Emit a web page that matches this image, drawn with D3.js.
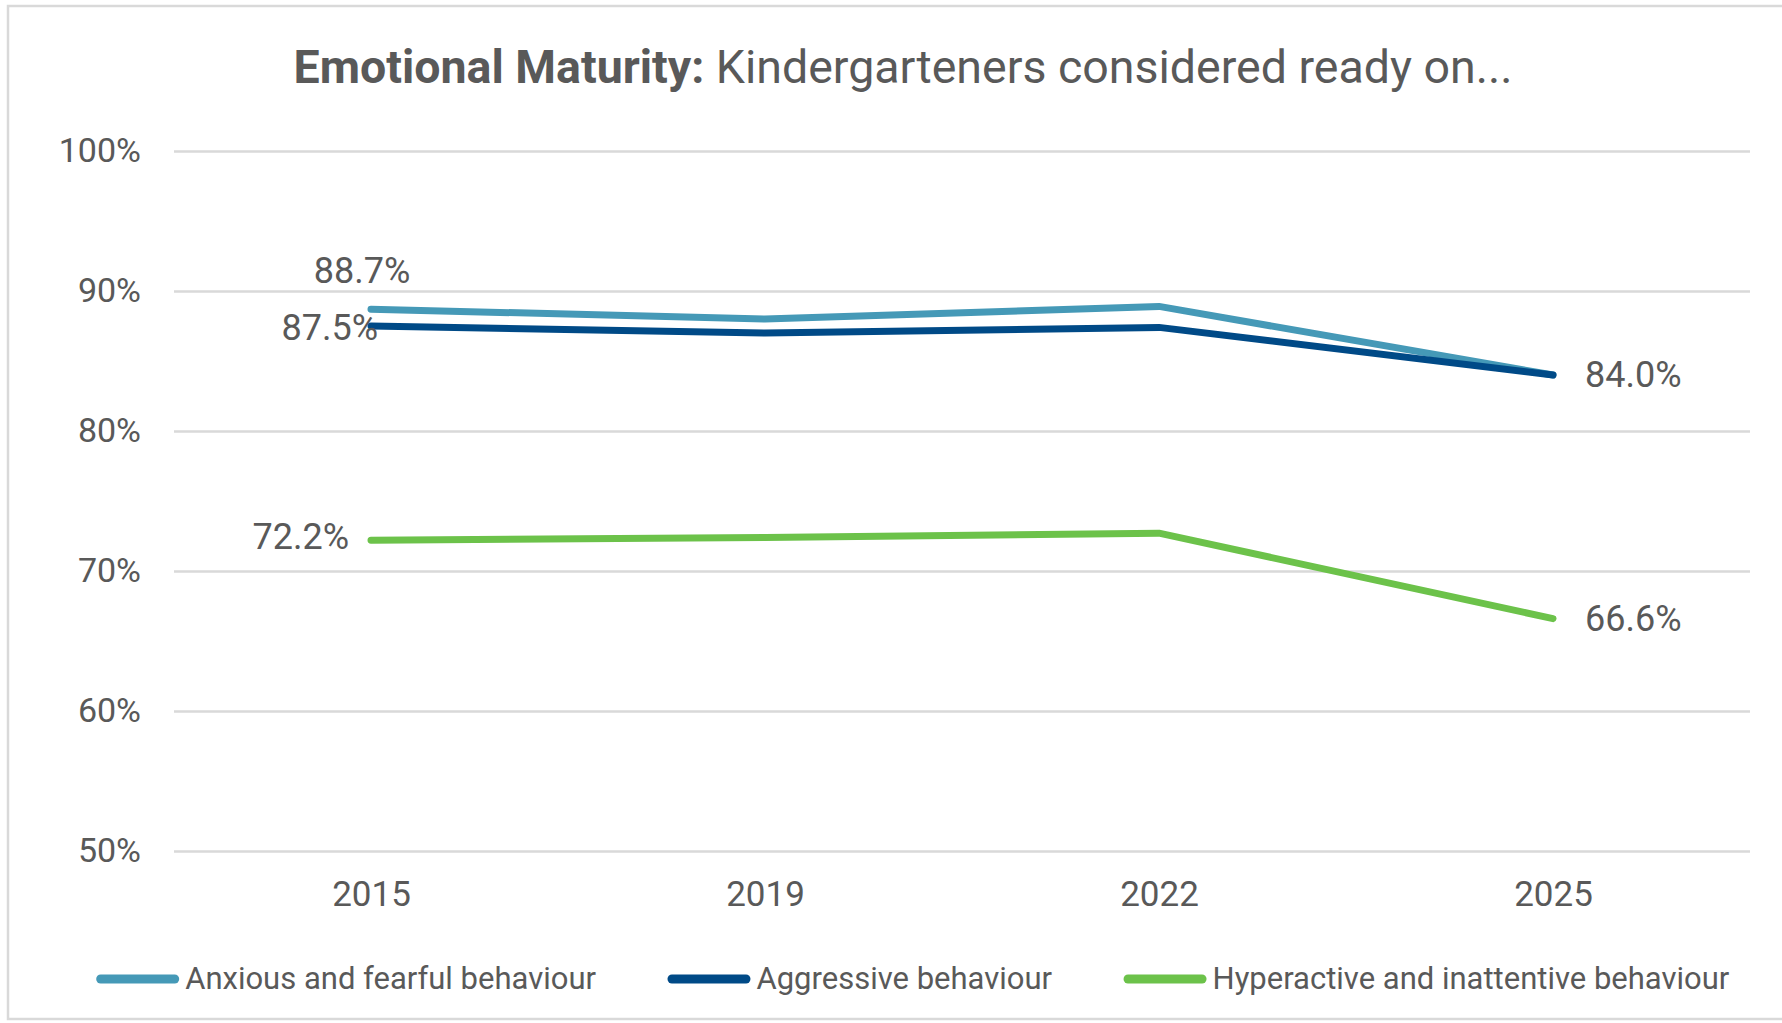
<!DOCTYPE html>
<html>
<head>
<meta charset="utf-8">
<script src="https://cdn.jsdelivr.net/npm/d3@7"></script>
<style>
  body { margin: 0; background: #fff; }
  svg { display: block; font-family: Roboto, "Noto Sans", sans-serif; }
</style>
</head>
<body>
<svg width="1782" height="1023"></svg>
<script>
  const years = ['2015', '2019', '2022', '2025'];
  const seriesNames = [
    'Anxious and fearful behaviour',
    'Aggressive behaviour',
    'Hyperactive and inattentive behaviour'
  ];
  const anxious = [88.7, 88.0, 88.9, 84.0];
  const aggressive = [87.5, 87.0, 87.4, 84.0];
  const hyperactive = [72.2, 72.4, 72.7, 66.6];
  const yTicks = [50, 60, 70, 80, 90, 100];
  const colors = ['#4599b7', '#004a87', '#6cc24a'];

  const svg = d3.select('svg');
  const textColor = '#595959';
  const fontFamily = 'Roboto, "Noto Sans", sans-serif';

  const margin = { top: 151, left: 174, right: 32, bottom: 172 };
  const width = +svg.attr('width');
  const height = +svg.attr('height');
  const innerWidth = width - margin.left - margin.right;
  const innerHeight = height - margin.top - margin.bottom;

  // outer frame: top, left and bottom edges (right side is cropped off)
  svg.append('path')
      .attr('d', `M${width},6 H8 V1019 H${width}`)
      .attr('fill', 'none')
      .attr('stroke', '#d9d9d9')
      .attr('stroke-width', 2.5);

  const xScale = d3.scalePoint()
    .domain(years)
    .range([0, innerWidth])
    .padding(0.5);

  const yScale = d3.scaleLinear()
    .domain([50, 100])
    .range([innerHeight, 0]);

  const g = svg.append('g')
      .attr('transform', `translate(${margin.left},${margin.top})`);

  const yAxis = d3.axisLeft(yScale)
    .tickValues(yTicks)
    .tickFormat(d => d + '%')
    .tickSize(-innerWidth)
    .tickPadding(33);

  const yAxisG = g.append('g').call(yAxis)
      .attr('font-family', fontFamily)
      .attr('font-size', 34);
  yAxisG.select('.domain').remove();
  yAxisG.selectAll('.tick line')
      .attr('stroke', '#d9d9d9')
      .attr('stroke-width', 2.5);
  yAxisG.selectAll('.tick text')
      .attr('fill', textColor);

  const xAxis = d3.axisBottom(xScale)
    .tickSize(0)
    .tickPadding(30);

  const xAxisG = g.append('g').call(xAxis)
      .attr('font-family', fontFamily)
      .attr('font-size', 35)
      .attr('transform', `translate(0,${innerHeight})`);
  xAxisG.select('.domain').remove();
  xAxisG.selectAll('.tick text')
      .attr('fill', textColor);

  const series = [anxious, aggressive, hyperactive].map((values, i) => ({
    name: seriesNames[i],
    color: colors[i],
    values: values.map((v, j) => ({ year: years[j], value: v }))
  }));

  const line = d3.line()
    .x(d => xScale(d.year))
    .y(d => yScale(d.value));

  g.selectAll('.series').data(series)
    .enter().append('path')
      .attr('class', 'series')
      .attr('d', d => line(d.values))
      .attr('fill', 'none')
      .attr('stroke', d => d.color)
      .attr('stroke-width', 7)
      .attr('stroke-linecap', 'round')
      .attr('stroke-linejoin', 'round');

  // data labels: first and last point, placed like the original
  const labels = [
    { s: 0, i: 0, dx: -9, dy: -26, anchor: 'middle' },
    { s: 1, i: 0, dx: 7, dy: 14, anchor: 'end' },
    { s: 2, i: 0, dx: -22, dy: 9, anchor: 'end' },
    { s: 1, i: 3, dx: 32, dy: 12, anchor: 'start' },
    { s: 2, i: 3, dx: 32, dy: 12, anchor: 'start' }
  ];

  g.selectAll('.data-label').data(labels)
    .enter().append('text')
      .attr('class', 'data-label')
      .attr('x', d => xScale(years[d.i]) + d.dx)
      .attr('y', d => yScale(series[d.s].values[d.i].value) + d.dy)
      .attr('text-anchor', d => d.anchor)
      .attr('fill', textColor)
      .attr('font-size', 36)
      .text(d => series[d.s].values[d.i].value.toFixed(1) + '%');

  // title
  const title = svg.append('text')
      .attr('x', 903)
      .attr('y', 83)
      .attr('text-anchor', 'middle')
      .attr('fill', textColor)
      .attr('font-size', 46.5);
  title.append('tspan')
      .attr('font-weight', 'bold')
      .text('Emotional Maturity:');
  title.append('tspan')
      .text(' Kindergarteners considered ready on...');

  // legend
  const legendCenter = 915;
  const swatchW = 74;
  const cap = 4.5;
  const textOffset = swatchW + cap + 6;
  const itemGap = 76;
  const items = svg.append('g').selectAll('g').data(series)
    .enter().append('g');
  items.append('line')
      .attr('x1', 0)
      .attr('x2', swatchW)
      .attr('y1', 0)
      .attr('y2', 0)
      .attr('stroke', d => d.color)
      .attr('stroke-width', 9)
      .attr('stroke-linecap', 'round');
  items.append('text')
      .attr('x', textOffset)
      .attr('y', 10)
      .attr('fill', textColor)
      .attr('font-size', 31)
      .text(d => d.name);

  const widths = [];
  items.each(function () {
    widths.push(textOffset + d3.select(this).select('text').node().getComputedTextLength());
  });
  const total = d3.sum(widths) + itemGap * (widths.length - 1);
  let xPos = legendCenter - total / 2;
  items.attr('transform', (d, i) => {
    const t = `translate(${xPos},979)`;
    xPos += widths[i] + itemGap;
    return t;
  });
</script>
</body>
</html>
